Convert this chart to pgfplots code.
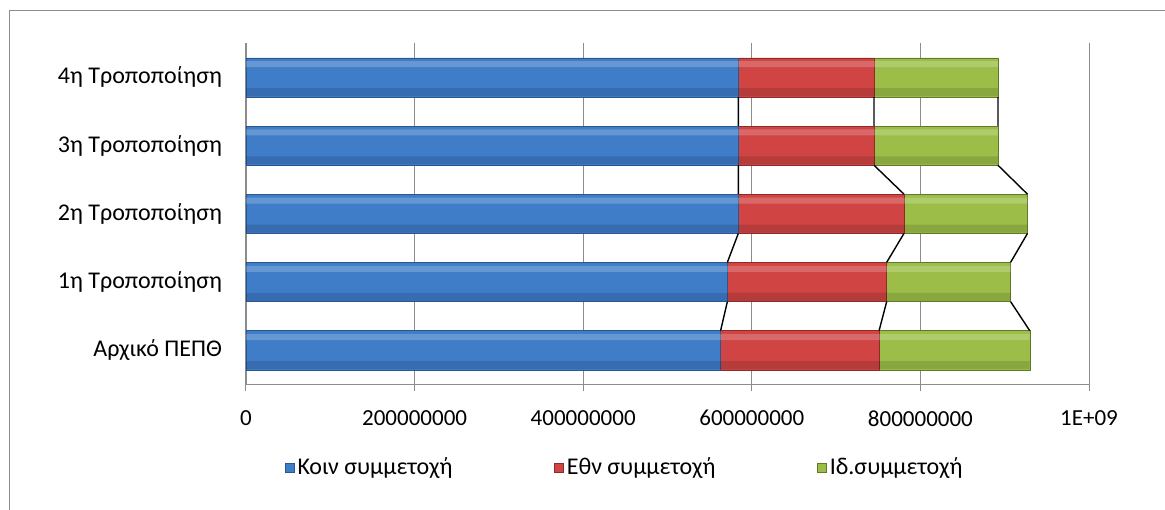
\documentclass[border=0pt]{standalone}
\usepackage{fontspec}
\setmainfont{Carlito}
\usepackage{pgfplots}
\pgfplotsset{compat=1.18}

\definecolor{gridgray}{HTML}{8C8C8C}
\definecolor{frame}{HTML}{8C8C8C}
% Excel-like bar colours
\definecolor{koinfill}{HTML}{3F7DC9}
\definecolor{koinedge}{HTML}{2B568E}
\definecolor{ethnfill}{HTML}{D04444}
\definecolor{ethnedge}{HTML}{8E2A2A}
\definecolor{idfill}{HTML}{9CBE48}
\definecolor{idedge}{HTML}{5F7A28}

\pgfplotsset{
  koin/.style={fill=koinfill, draw=koinedge, line width=0.3pt},
  ethn/.style={fill=ethnfill, draw=ethnedge, line width=0.3pt},
  idiot/.style={fill=idfill, draw=idedge, line width=0.3pt},
  sameframe/.style={
    at={(0pt,0pt)}, anchor=south west,
    scale only axis,
    width=421.5pt, height=170.5pt,
    xmin=0, xmax=1e9,
    ymin=-0.5, ymax=4.5,
  },
}

\begin{document}
\begin{tikzpicture}[font=\fontsize{12}{14}\selectfont]
\path[use as bounding box] (-123pt,-62.35pt) rectangle (459.5pt,192.15pt);
\draw[frame, line width=0.75pt] (-118.25pt,-63pt) -- (-118.25pt,186.9pt) -- (460pt,186.9pt);

\begin{axis}[
    sameframe,
    xbar stacked,
    bar width=19.6pt,
    xtick={0,2e8,4e8,6e8,8e8,1e9},
    xticklabels={0,200000000,400000000,600000000,800000000,1E+09},
    scaled x ticks=false,
    ytick={0,1,2,3,4},
    yticklabels={Αρχικό ΠΕΠΘ,1η Τροποποίηση,2η Τροποποίηση,3η Τροποποίηση,4η Τροποποίηση},
    /pgf/number format/assume math mode=true,
    axis x line*=bottom,
    axis y line*=left,
    axis line style={gridgray, line width=0.6pt},
    xmajorgrids=true,
    grid style={gridgray, line width=0.5pt},
    tick align=outside,
    major tick length=3.5pt,
    x tick style={gridgray, line width=0.5pt},
    y tick style={draw=none},
    xticklabel style={font=\fontsize{11.5}{13.5}\selectfont, yshift=-6pt},
    yticklabel style={xshift=-5pt},
    legend columns=3,
    legend style={
        at={(0.450,-0.2455)}, anchor=center,
        draw=none, fill=none,
        inner sep=0pt,
        column sep=0pt,
        nodes={inner sep=1.5pt},
        /tikz/column 2/.style={column sep=49.5pt},
        /tikz/column 4/.style={column sep=49.5pt},
    },
    legend image code/.code={\draw[#1, line width=0.2pt] (0pt,-2.25pt) rectangle (4.5pt,2.25pt);},
]
\addplot[koin] coordinates {(563e6,0) (571e6,1) (584e6,2) (584e6,3) (584e6,4)};
\addlegendentry{Κοιν συμμετοχή}
\addplot[ethn] coordinates {(188e6,0) (189e6,1) (196.5e6,2) (161e6,3) (161e6,4)};
\addlegendentry{Εθν συμμετοχή}
\addplot[idiot] coordinates {(179e6,0) (147e6,1) (146.5e6,2) (147e6,3) (147e6,4)};
\addlegendentry{Ιδ.συμμετοχή}
\end{axis}

% gloss bands and series lines over the stacked bars
\begin{axis}[
    sameframe,
    hide axis,
    unbounded coords=jump,
]
\addplot[xbar, bar width=3pt, bar shift=6.6pt, fill=white, draw=none, fill opacity=0.2]
  coordinates {(929.6e6,0) (907e6,1) (927e6,2) (892e6,3) (892e6,4)};
\addplot[xbar, bar width=4pt, bar shift=-7.4pt, fill=black, draw=none, fill opacity=0.12]
  coordinates {(929.6e6,0) (907e6,1) (927e6,2) (892e6,3) (892e6,4)};
\addplot[black, line width=0.7pt, mark=none] coordinates {
  (563e6,0.288) (571e6,0.712) (nan,nan)
  (571e6,1.288) (584e6,1.712) (nan,nan)
  (584e6,2.288) (584e6,2.712) (nan,nan)
  (584e6,3.288) (584e6,3.712)
};
\addplot[black, line width=0.7pt, mark=none] coordinates {
  (751e6,0.288) (760e6,0.712) (nan,nan)
  (760e6,1.288) (780.5e6,1.712) (nan,nan)
  (780.5e6,2.288) (745e6,2.712) (nan,nan)
  (745e6,3.288) (745e6,3.712)
};
\addplot[black, line width=0.7pt, mark=none] coordinates {
  (929.6e6,0.288) (907e6,0.712) (nan,nan)
  (907e6,1.288) (927e6,1.712) (nan,nan)
  (927e6,2.288) (892e6,2.712) (nan,nan)
  (892e6,3.288) (892e6,3.712)
};
\end{axis}
\end{tikzpicture}
\end{document}
